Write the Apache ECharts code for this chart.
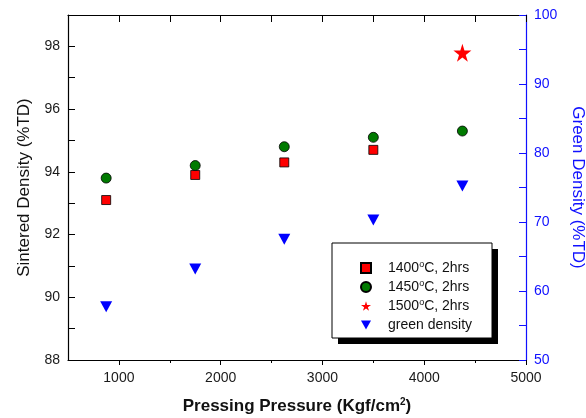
<!DOCTYPE html>
<html>
<head>
    <meta charset="utf-8">
    <title>Sintered density vs pressing pressure</title>
    <style>
        html,body{margin:0;padding:0;background:#fff;}
    </style>
</head>
<body>
<div id="main" style="width:586px;height:418px;"></div>
<script src="https://cdn.jsdelivr.net/npm/echarts@6/dist/echarts.min.js"></script>
<script type="text/javascript">
    // pressing pressure (Kgf/cm2)
    var pressure = [875, 1750, 2625, 3500, 4375];
    var sinter1400 = [93.1, 93.9, 94.3, 94.7];
    var sinter1450 = [93.8, 94.2, 94.8, 95.1, 95.3];
    var sinter1500 = [97.8];        // only at the last pressure
    var greenDensity = [57.7, 63.2, 67.5, 70.3, 75.2];
    var majorX = [1000, 2000, 3000, 4000, 5000];
    var minorX = [1500, 2500, 3500, 4500];

    var FONT = 'Liberation Sans';
    var BLUE = '#1010ff';

    function pairs(ys, offset) {
        return ys.map(function (y, i) { return [pressure[i + (offset || 0)], y]; });
    }

    var myChart = echarts.init(document.getElementById('main'));

    var starPath = 'path://M50,0 L61,35 L98,35 L68,57 L79,91 L50,70 L21,91 L32,57 L2,35 L39,35 Z';
    var downTri = 'path://M0,0 L10,0 L5,9 Z';

    myChart.setOption({
        animation: false,
        grid: { left: 68, right: 60, top: 15, bottom: 58, outerBoundsMode: 'none' },
        // legend frame with its hard drop shadow
        graphic: [
            { type: 'rect', z: 3, shape: { x: 338, y: 249, width: 160, height: 95 }, style: { fill: '#000' } },
            { type: 'rect', z: 3, shape: { x: 332, y: 243, width: 160, height: 95 }, style: { fill: '#fff', stroke: '#000', lineWidth: 1 } }
        ],
        legend: {
            orient: 'vertical',
            left: 332, top: 243,
            z: 10,
            padding: [17, 21, 9, 28],
            itemWidth: 10, itemHeight: 10, itemGap: 3,
            textStyle: {
                fontFamily: FONT, fontSize: 14, color: '#111', padding: [0, 0, 0, 12], lineHeight: 16,
                rich: { s: { fontFamily: FONT, fontSize: 9, lineHeight: 16, padding: [0, 0, 6, 0], color: '#111' } }
            },
            formatter: function (n) { return n.replace('°C', '{s|o}C'); },
            data: ['1400°C, 2hrs', '1450°C, 2hrs', '1500°C, 2hrs', 'green density']
        },
        xAxis: [
            {
                type: 'value', position: 'bottom', min: 500, max: 5000, interval: 500,
                splitLine: { show: false },
                axisLine: { lineStyle: { color: '#000', width: 1.2 } },
                axisTick: { customValues: majorX, length: 5, lineStyle: { color: '#000' } },
                axisLabel: {
                    customValues: majorX, fontFamily: FONT, fontSize: 14, color: '#1a1a1a', margin: 11,
                    formatter: function (v) { return String(v); }
                },
                name: 'Pressing Pressure (Kgf/cm{s|2})',
                nameLocation: 'middle', nameGap: 37,
                nameTextStyle: {
                    fontFamily: FONT, fontSize: 17, fontWeight: 'bold', color: '#111',
                    rich: { s: { fontFamily: FONT, fontSize: 10, fontWeight: 'bold', padding: [0, 0, 9, 0] } }
                }
            },
            {
                type: 'value', position: 'top', min: 500, max: 5000, interval: 500,
                splitLine: { show: false },
                axisLine: { lineStyle: { color: '#000', width: 1.2 } },
                axisTick: { inside: true, length: 7, lineStyle: { color: '#000' } },
                axisLabel: { show: false }
            },
            {
                type: 'value', position: 'bottom', min: 500, max: 5000, interval: 500,
                splitLine: { show: false },
                axisLine: { show: false },
                axisTick: { customValues: minorX, length: 3, lineStyle: { color: '#000' } },
                axisLabel: { show: false }
            }
        ],
        yAxis: [
            {
                type: 'value', position: 'left', min: 88, max: 99, interval: 1,
                splitLine: { show: false },
                axisLine: { show: true, lineStyle: { color: '#000', width: 1.2 } },
                axisTick: { inside: true, length: 7, lineStyle: { color: '#000' } },
                axisLabel: {
                    fontFamily: FONT, fontSize: 14, color: '#1a1a1a', margin: 8,
                    formatter: function (v) { return v % 2 === 0 ? v : ''; }
                },
                name: 'Sintered Density (%TD)',
                nameLocation: 'middle', nameGap: 35,
                nameTextStyle: { fontFamily: FONT, fontSize: 17, color: '#111' }
            },
            {
                type: 'value', position: 'right', min: 50, max: 100, interval: 5,
                splitLine: { show: false },
                axisLine: { show: true, lineStyle: { color: BLUE, width: 1.2 } },
                axisTick: { inside: true, length: 7, lineStyle: { color: BLUE } },
                axisLabel: {
                    fontFamily: FONT, fontSize: 14, color: BLUE, margin: 8,
                    formatter: function (v) { return v % 10 === 0 ? v : ''; }
                },
                name: 'Green Density (%TD)',
                nameLocation: 'middle', nameGap: 43, nameRotate: -90,
                nameTextStyle: { fontFamily: FONT, fontSize: 17, color: BLUE }
            }
        ],
        series: [
            {
                name: '1400°C, 2hrs', type: 'scatter', symbol: 'rect', symbolSize: 9,
                itemStyle: { color: '#ff0000', borderColor: '#000', borderWidth: 0.8, opacity: 1 },
                data: pairs(sinter1400)
            },
            {
                name: '1450°C, 2hrs', type: 'scatter', symbol: 'circle', symbolSize: 10,
                itemStyle: { color: '#007a00', borderColor: '#000', borderWidth: 0.8, opacity: 1 },
                data: pairs(sinter1450)
            },
            {
                name: '1500°C, 2hrs', type: 'scatter', symbol: starPath, symbolSize: 18,
                itemStyle: { color: '#ff0000', opacity: 1 },
                data: pairs(sinter1500, 4)
            },
            {
                name: 'green density', type: 'scatter', symbol: downTri, symbolSize: [12, 11],
                yAxisIndex: 1,
                itemStyle: { color: '#0000ff', opacity: 1 },
                data: pairs(greenDensity)
            }
        ]
    });
</script>
</body>
</html>
